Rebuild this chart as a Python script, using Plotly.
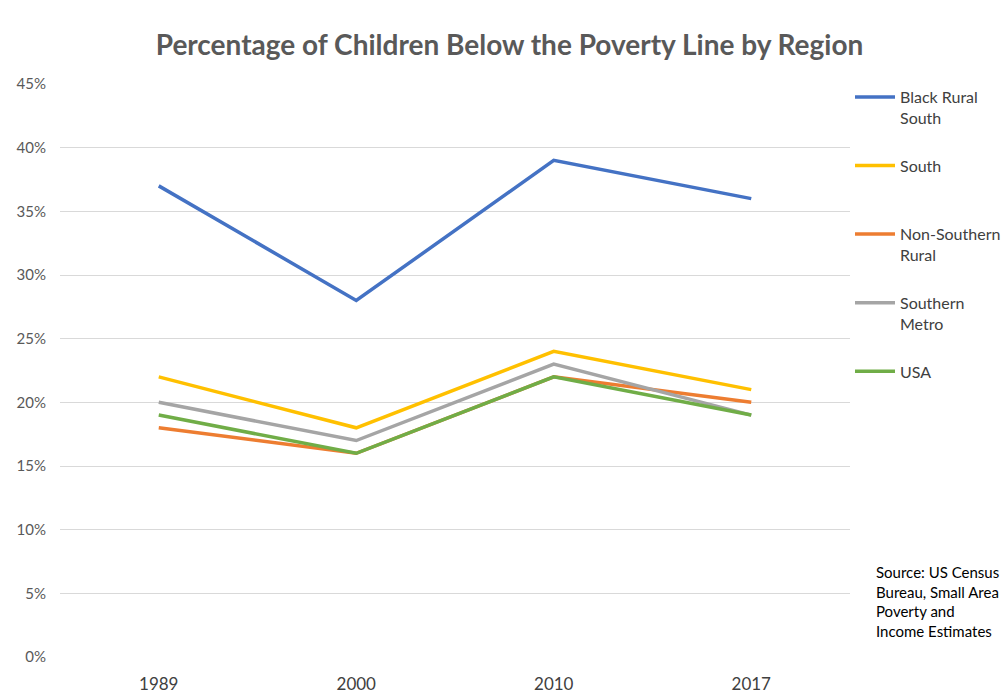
import plotly.graph_objects as go

years = ["1989", "2000", "2010", "2017"]
series_names = ["Black Rural<br>South", "South<br> ", "Non-Southern<br>Rural", "Southern<br>Metro", "USA<br> "]
black_rural_south = [37, 28, 39, 36]
south = [22, 18, 24, 21]
non_southern_rural = [18, 16, 22, 20]
southern_metro = [20, 17, 23, 19]
usa = [19, 16, 22, 19]
y_ticks = [0, 5, 10, 15, 20, 25, 30, 35, 40, 45]
y_tick_labels = [f"{v}%" for v in y_ticks]
source_text = "Source: US Census<br>Bureau, Small Area<br>Poverty and<br>Income Estimates"

colors = ["#4472C4", "#FFC000", "#ED7D31", "#A5A5A5", "#70AD47"]
values = [black_rural_south, south, non_southern_rural, southern_metro, usa]

FONT = "Lato"
fig = go.Figure()
for i, (name, vals, c) in enumerate(zip(series_names, values, colors)):
    fig.add_trace(go.Scatter(
        x=years, y=vals, mode="lines", name=name,
        line=dict(color=c, width=3.5), legendgroup=f"g{i}",
    ))

fig.update_layout(
    width=1005, height=696,
    margin=dict(l=60, r=155, t=84, b=39, autoexpand=False),
    paper_bgcolor="white", plot_bgcolor="white",
    font=dict(family=FONT, color="#595959", size=15),
    title=dict(text="<b>Percentage of Children Below the Poverty Line by Region</b>",
               x=0.507, xanchor="center", y=0.935, yanchor="middle",
               font=dict(size=28, color="#595959", family=FONT)),
    xaxis=dict(type="category", range=[-0.5, 3.5], showgrid=False, showline=False,
               automargin=False,
               ticks="", ticklabelstandoff=15, tickfont=dict(size=17, color="#404040")),
    yaxis=dict(range=[0, 45], tickvals=y_ticks, ticktext=y_tick_labels,
               showgrid=True, gridcolor="#D9D9D9", gridwidth=1, zeroline=False,
               automargin=False,
               showline=False, ticks="", ticklabelstandoff=13,
               tickfont=dict(size=15, color="#595959")),
    legend=dict(x=1.0, xanchor="left", y=1.007, yanchor="top", valign="top",
                tracegroupgap=24, font=dict(size=16, color="#404040", family=FONT),
                bgcolor="rgba(0,0,0,0)", itemwidth=40),
    showlegend=True,
)
fig.add_annotation(text=source_text, xref="paper", yref="paper", x=1.030, y=0.168,
                   xanchor="left", yanchor="top", align="left", showarrow=False,
                   font=dict(size=15, color="black", family=FONT))

fig.write_html("out.html")
